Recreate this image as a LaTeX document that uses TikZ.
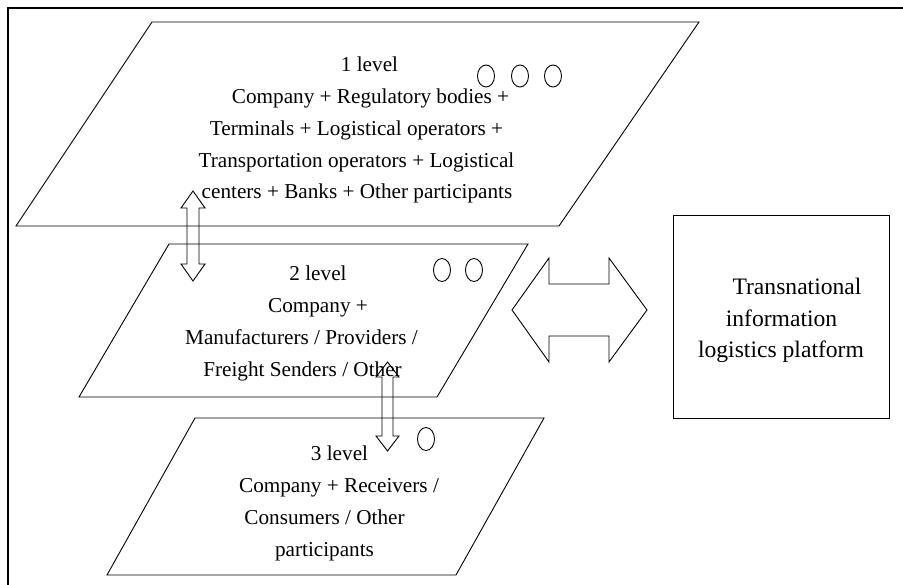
\documentclass[tikz,border=0pt]{standalone}
\usepackage{fontspec}
\setmainfont{Liberation Serif}
\usetikzlibrary{shapes.geometric}
\begin{document}
\begin{tikzpicture}[x=1pt,y=-1pt,
  shapeline/.style={line width=0.9pt, line join=miter},
  ln/.style={anchor=base, inner sep=0pt, font=\fontsize{21.2}{25}\selectfont},
  pln/.style={anchor=base, inner sep=0pt, font=\fontsize{23.6}{28}\selectfont},
  blockarrow/.style={draw, line width=0.9pt, line join=miter},
  dot/.style={draw, ellipse, minimum width=17pt, minimum height=23pt, inner sep=0pt, line width=0.9pt}]
\useasboundingbox (0,0) rectangle (903,585);
\fill[white] (0,0) rectangle (903,585);
\draw[line width=1.3pt] (8,585) -- (8,8) -- (903,8);

% level 1
\draw[shapeline] (152,22) -- (699,22) -- (559,226) -- (16,226) -- cycle;
\node[ln] (l1a) at (369.5,71.5) {1 level};
\node[ln] (l1b) at (370.5,103.5) {Company + Regulatory bodies +};
\node[ln] (l1c) at (356.5,135.5) {Terminals + Logistical operators +};
\node[ln] (l1d) at (356.5,167.2) {Transportation operators + Logistical};
\node[ln] (l1e) at (357,199) {centers + Banks + Other participants};
\node[dot, minimum height=22pt] (c11) at (486,76) {};
\node[dot, minimum height=22pt] (c12) at (520,76) {};
\node[dot, minimum height=22pt] (c13) at (553,76) {};

% level 2
\draw[shapeline] (169,244) -- (528,244) -- (437,397) -- (79,397) -- cycle;
\node[ln] (l2a) at (318,281) {2 level};
\node[ln] (l2b) at (318,313) {Company +};
\node[ln] (l2c) at (301.5,345) {Manufacturers / Providers /};
\node[ln] (l2d) at (302.5,377) {Freight Senders / Other};
\node[dot] (c21) at (442,270) {};
\node[dot] (c22) at (474,270) {};

% level 3
\draw[shapeline] (195,418) -- (544,418) -- (456,575) -- (107,575) -- cycle;
\node[ln] (l3a) at (339.5,460.5) {3 level};
\node[ln] (l3b) at (339,492.5) {Company + Receivers /};
\node[ln] (l3c) at (324.5,524.5) {Consumers / Other};
\node[ln] (l3d) at (324.5,556) {participants};
\node[dot] (c31) at (426,439) {};

% platform
\node[draw, line width=0.9pt, minimum width=216pt, minimum height=203pt] (plat) at (781,316.5) {};
\node[pln] (pa) at (797,295) {Transnational};
\node[pln] (pb) at (781.5,327) {information};
\node[pln] (pc) at (781,358) {logistics platform};

% arrows
\draw[blockarrow] (193,191) -- (205,208) -- (199,208) -- (199,264) -- (205,264) -- (193,281) -- (181,264) -- (187,264) -- (187,208) -- (181,208) -- cycle;
\draw[blockarrow] (387.5,362) -- (399,377) -- (393,377) -- (393,436) -- (399,436) -- (387.5,451) -- (376,436) -- (382,436) -- (382,377) -- (376,377) -- cycle;
\draw[blockarrow] (512,310) -- (549,258) -- (549,284) -- (609,284) -- (609,258) -- (647,310) -- (609,362) -- (609,336) -- (549,336) -- (549,362) -- cycle;
\end{tikzpicture}
\end{document}
